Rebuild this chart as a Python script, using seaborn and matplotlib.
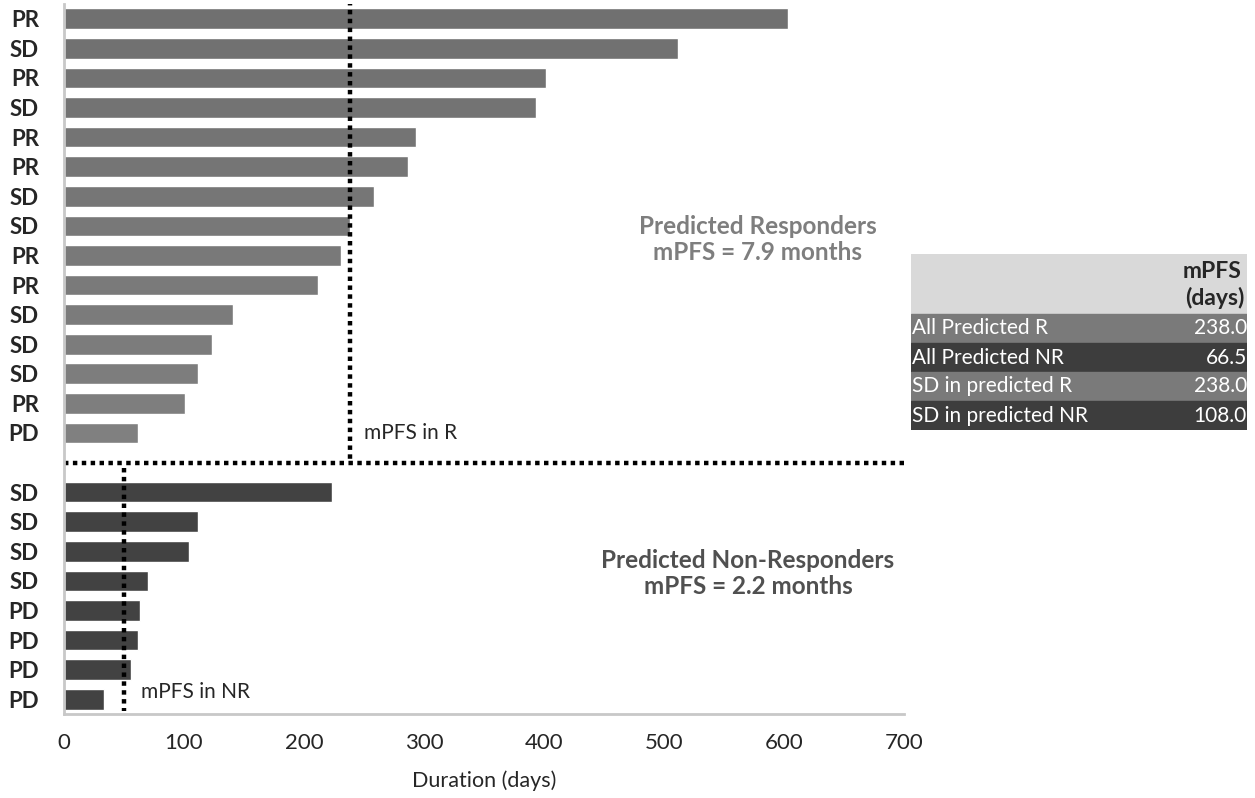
import seaborn as sns
import pandas as pd
from matplotlib import pyplot as plt

# bars, top to bottom
resp_labels = ['PR', 'SD', 'PR', 'SD', 'PR', 'PR', 'SD', 'SD', 'PR', 'PR', 'SD', 'SD', 'SD', 'PR', 'PD']
resp_days = [603, 512, 402, 393, 293, 287, 258, 238, 231, 212, 141, 123, 112, 101, 62]
nonresp_labels = ['SD', 'SD', 'SD', 'SD', 'PD', 'PD', 'PD', 'PD']
nonresp_days = [223, 112, 104, 70, 63, 62, 56, 33]

mpfs_r = 238
mpfs_nr = 50

table_rows = ['All Predicted R', 'All Predicted NR', 'SD in predicted R', 'SD in predicted NR']
table_vals = ['238.0', '66.5', '238.0', '108.0']
xticks = [0, 100, 200, 300, 400, 500, 600, 700]

sns.set_style('white')
plt.rcParams['font.family'] = ['Lato', 'DejaVu Sans']

keys_r = ['r%d' % i for i in range(len(resp_days))]
keys_nr = ['n%d' % i for i in range(len(nonresp_days))]
df = pd.DataFrame({
    'key': keys_r + keys_nr,
    'days': resp_days + nonresp_days,
})
order = keys_r + ['gap'] + keys_nr
tick_labels = resp_labels + [''] + nonresp_labels

# responders fade slightly lighter toward the bottom, non-responders flat dark grey
n = len(keys_r)
pal = {}
for i, k in enumerate(keys_r):
    g = int(0x70 + (0x80 - 0x70) * i / (n - 1))
    pal[k] = '#%02x%02x%02x' % (g, g, g)
for k in keys_nr:
    pal[k] = '#424242'

fig = plt.figure(figsize=(12.55, 7.98), dpi=100)
ax = fig.add_axes([64 / 1255, 1 - 714 / 798, 840 / 1255, 710 / 798])

sns.barplot(data=df, x='days', y='key', hue='key', order=order, hue_order=keys_r + keys_nr,
            palette=pal, dodge=False, width=0.7, legend=False, saturation=1, ax=ax)

dots = (0, (1, 1))
ax.axhline(15, color='black', linestyle=dots, linewidth=3.2, clip_on=False)
ax.plot([mpfs_r, mpfs_r], [-0.6, 15], color='black', linestyle=dots, linewidth=3.2)
ax.plot([mpfs_nr, mpfs_nr], [15.2, 23.4], color='black', linestyle=dots, linewidth=3.2)

ax.set_xlim(0, 700)
ax.set_ylim(len(order) - 0.5, -0.5)
ax.set_xticks(xticks)
ax.set_xticklabels([str(t) for t in xticks], fontsize=16)
ax.set_yticks(range(len(order)))
ax.set_yticklabels(tick_labels, fontsize=16, fontweight='bold')
ax.tick_params(length=0)
ax.tick_params(axis='y', pad=18)
ax.tick_params(axis='x', pad=14)
ax.set_ylabel('')
ax.set_xlabel('Duration (days)', fontsize=15.5, labelpad=12)
for side in ['top', 'right']:
    ax.spines[side].set_visible(False)
for side in ['left', 'bottom']:
    ax.spines[side].set_color('#c8c8c8')
    ax.spines[side].set_linewidth(2)

ax.text(mpfs_r + 12, 14.0, 'mPFS in R', fontsize=15, va='center')
ax.text(mpfs_nr + 14, 22.75, 'mPFS in NR', fontsize=15, va='center')

ax.text(578, 7.45, 'Predicted Responders\nmPFS = 7.9 months', fontsize=17.5,
        fontweight='bold', color='#7e7e7e', ha='center', va='center', linespacing=1.15)
ax.text(570, 18.75, 'Predicted Non-Responders\nmPFS = 2.2 months', fontsize=17.5,
        fontweight='bold', color='#505050', ha='center', va='center', linespacing=1.15)

# summary table on the right
tab = fig.add_axes([911 / 1255, 1 - 430 / 798, 336 / 1255, 176 / 798])
tab.set_xlim(0, 336)
tab.set_ylim(176, 0)
tab.axis('off')
tab.axhspan(0, 60, color='#d9d9d9')
tab.text(330, 17, 'mPFS', fontsize=16.5, fontweight='bold', ha='right', va='center')
tab.text(334, 44, '(days)', fontsize=16.5, fontweight='bold', ha='right', va='center')
row_colors = ['#7a7a7a', '#3d3d3d', '#7a7a7a', '#3d3d3d']
for i, (name, val) in enumerate(zip(table_rows, table_vals)):
    y0 = 60 + i * 29
    tab.axhspan(y0, y0 + 29, color=row_colors[i])
    tab.text(1, y0 + 14.5, name, fontsize=15, color='white', va='center')
    tab.text(336, y0 + 14.5, val, fontsize=15, color='white', va='center', ha='right')

fig.savefig('out.png', dpi=100)
